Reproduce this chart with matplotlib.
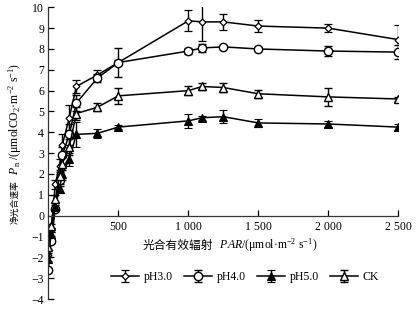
import matplotlib
matplotlib.use("Agg")
import matplotlib.pyplot as plt
from matplotlib.ticker import FixedLocator

plt.rcParams['font.family'] = ['Liberation Serif', 'Noto Sans CJK SC', 'DejaVu Sans']
plt.rcParams['mathtext.fontset'] = 'custom'
plt.rcParams['mathtext.rm'] = 'Liberation Serif'
plt.rcParams['mathtext.it'] = 'Liberation Serif:italic'
plt.rcParams['axes.unicode_minus'] = True

par = [0, 20, 50, 80, 100, 150, 200, 350, 500, 1000, 1100, 1250, 1500, 2000, 2500]

ph30 = [-1.9, -0.7, 1.5, 2.4, 3.4, 4.7, 6.2, 6.75, 7.35, 9.35, 9.3, 9.3, 9.1, 9.0, 8.45]
ph30_err = [0.1, 0.1, 0.2, 0.3, 0.5, 0.6, 0.3, 0.25, 0.1, 0.5, 0.9, 0.4, 0.3, 0.2, 0.7]

ph40 = [-2.6, -1.2, 0.3, 1.7, 2.9, 3.9, 5.4, 6.6, 7.35, 7.9, 8.05, 8.1, 8.0, 7.9, 7.85]
ph40_err = [0.1, 0.1, 0.1, 0.3, 0.4, 0.5, 0.4, 0.2, 0.7, 0.15, 0.2, 0.05, 0.1, 0.25, 0.35]

ph50 = [-2.1, -0.9, 0.4, 1.3, 2.0, 2.7, 3.9, 3.95, 4.25, 4.55, 4.7, 4.75, 4.45, 4.4, 4.25]
ph50_err = [0.1, 0.1, 0.1, 0.2, 0.3, 0.3, 0.6, 0.2, 0.1, 0.35, 0.1, 0.3, 0.2, 0.15, 0.15]

ck = [-1.5, -0.5, 0.8, 1.9, 2.5, 3.3, 4.9, 5.2, 5.75, 6.0, 6.2, 6.15, 5.85, 5.7, 5.6]
ck_err = [0.1, 0.1, 0.2, 0.3, 0.3, 0.4, 0.3, 0.2, 0.4, 0.2, 0.15, 0.2, 0.2, 0.45, 0.1]

labels = ['pH3.0', 'pH4.0', 'pH5.0', 'CK']
xticks = [500, 1000, 1500, 2000, 2500]
xticklabels = ['500', '1 000', '1 500', '2 000', '2 500']
yticks = list(range(-4, 11))

fig = plt.figure(figsize=(4.19, 3.10), dpi=100)
ax = fig.add_axes([48.3 / 419, 1 - 299 / 310, 350 / 419, (299 - 7.3) / 310])

styles = [
    dict(marker='D', ms=3.5, mfc='white', mec='black', mew=0.9),
    dict(marker='o', ms=6, mfc='white', mec='black', mew=1.0),
    dict(marker='^', ms=5.5, mfc='black', mec='black', mew=0.8),
    dict(marker='^', ms=5.5, mfc='white', mec='black', mew=1.0),
]
series = [(ph30, ph30_err), (ph40, ph40_err), (ph50, ph50_err), (ck, ck_err)]
handles = []
for (vals, err), st, lab in zip(series, styles, labels):
    h = ax.errorbar(par, vals, yerr=err, color='black', lw=1.1, elinewidth=1.0,
                    capsize=3, capthick=1.0, label=lab, **st)
    handles.append(h)

ax.set_xlim(0, 2500)
ax.set_ylim(-4, 10)
ax.spines['top'].set_visible(False)
ax.spines['right'].set_visible(False)
ax.spines['bottom'].set_position(('data', 0))
ax.spines['left'].set_bounds(-4, 10)
for s in ['left', 'bottom']:
    ax.spines[s].set_linewidth(0.9)
    ax.spines[s].set_color('#333333')

ax.xaxis.set_major_locator(FixedLocator(xticks))
ax.set_xticklabels(xticklabels)
ax.set_yticks(yticks)
ax.set_yticklabels([('\u2212' + str(-v)) if v < 0 else str(v) for v in yticks])
ax.tick_params(axis='x', direction='in', length=4, width=0.9, labelsize=8.5, pad=4)
ax.tick_params(axis='y', direction='in', length=4, width=0.9, labelsize=8.5, pad=3)

cjk = ['Noto Sans CJK SC', 'DejaVu Sans']

# y label: Chinese part + math part
ty = fig.text(15 / 419, 1 - 224 / 310, '净光合速率', rotation=90, ha='center', va='bottom',
              fontsize=6.3, family=cjk)
ax.annotate('  $\\it{P}_{\\rm n}$ /(μmolCO$_2$·m$^{-2}$ s$^{-1}$)', xy=(0.5, 1.0), xycoords=ty,
            rotation=90, ha='center', va='bottom', fontsize=8.5, annotation_clip=False)

# x label
tx = fig.text(143 / 419, 1 - 245 / 310, '光合有效辐射', ha='left', va='center',
              fontsize=8.5, family=cjk)
ax.annotate('  $\\it{PAR}$/(μmol·m$^{-2}$ s$^{-1}$)', xy=(1.0, 0.5), xycoords=tx,
            ha='left', va='center', fontsize=8.5, annotation_clip=False)

leg = fig.legend(handles, labels, loc='center', bbox_to_anchor=(245 / 419, 1 - 277 / 310),
                 ncol=4, frameon=False, fontsize=8.5, handlelength=2.4,
                 columnspacing=0.9, handletextpad=0.4)

fig.savefig('out.png', dpi=100)
